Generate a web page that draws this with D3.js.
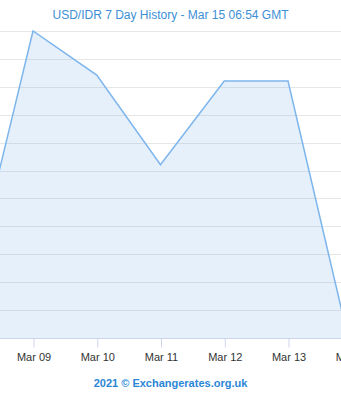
<!DOCTYPE html>
<html>
<head>
<meta charset="utf-8">
<script src="https://cdn.jsdelivr.net/npm/d3@7"></script>
<style>
  body { margin: 0; background: #fff; }
  svg { display: block; font-family: "Liberation Sans", Arial, sans-serif; }
  .grid line { stroke: #e6e6e6; }
  .x-axis path, .x-axis line { stroke: #ccd6eb; }
  .x-axis text { fill: #333; font-size: 11px; }
</style>
</head>
<body>
<div id="chart"></div>
<script>
// Daily USD/IDR rates, Mar 08 to Mar 14 (the ends run past the visible plot)
const dates = ["2021-03-08", "2021-03-09", "2021-03-10", "2021-03-11", "2021-03-12", "2021-03-13", "2021-03-14"];
const rates = [14315.4, 14410, 14394.2, 14362.1, 14392.1, 14392.1, 14294.6];
const tickDates = ["2021-03-09", "2021-03-10", "2021-03-11", "2021-03-12", "2021-03-13", "2021-03-14"];
const rateTicks = d3.range(14300, 14411, 10);

const width = 341;
const height = 400;
const plotTop = 31;
const plotBottom = 338;

const parse = d3.utcParse("%Y-%m-%d");
const data = dates.map((d, i) => ({ date: parse(d), rate: rates[i] }));

const svg = d3.select("#chart")
    .append("svg")
    .attr("width", width)
    .attr("height", height);

// One day is about 64px; Mar 09 sits at x = 33
const xScale = d3.scaleUtc()
    .domain([parse("2021-03-08"), parse("2021-03-14")])
    .range([-30.75, 351.75]);

const yScale = d3.scaleLinear()
    .domain([14300, 14410])
    .range([plotBottom, plotTop]);

// Clip the series to the visible plot area
svg.append("clipPath")
    .attr("id", "plot-clip")
    .append("rect")
    .attr("x", 0)
    .attr("y", plotTop - 2)
    .attr("width", width)
    .attr("height", plotBottom - plotTop + 2);

// Horizontal grid lines
svg.append("g")
    .attr("class", "grid")
    .selectAll("line")
    .data(rateTicks.slice(1))
    .join("line")
    .attr("x1", 0)
    .attr("x2", width)
    .attr("y1", d => Math.round(yScale(d)) + 0.5)
    .attr("y2", d => Math.round(yScale(d)) + 0.5);

const plot = svg.append("g").attr("clip-path", "url(#plot-clip)");

const area = d3.area()
    .x(d => xScale(d.date))
    .y0(plotBottom + 20)
    .y1(d => yScale(d.rate));

const line = d3.line()
    .x(d => xScale(d.date))
    .y(d => yScale(d.rate));

plot.append("path")
    .datum(data)
    .attr("d", area)
    .attr("fill", "#7cb5ec")
    .attr("fill-opacity", 0.2);

plot.append("path")
    .datum(data)
    .attr("d", line)
    .attr("fill", "none")
    .attr("stroke", "#7cb5ec")
    .attr("stroke-width", 1.5);

// x-axis with day labels
svg.append("g")
    .attr("class", "x-axis")
    .attr("transform", `translate(0.5, ${plotBottom + 0.5})`)
    .call(d3.axisBottom(xScale)
        .tickValues(tickDates.map(parse))
        .tickFormat(d3.utcFormat("%b %d"))
        .tickSize(9)
        .tickPadding(6))
    .call(g => g.select(".domain").attr("d", `M-1,0H${width}`));

// Title
svg.append("text")
    .attr("x", width / 2)
    .attr("y", 19)
    .attr("text-anchor", "middle")
    .attr("fill", "#3d8fd6")
    .style("font-size", "12px")
    .text("USD/IDR 7 Day History - Mar 15 06:54 GMT");

// Credit line
svg.append("text")
    .attr("x", width / 2)
    .attr("y", 387)
    .attr("text-anchor", "middle")
    .attr("fill", "#2b86d6")
    .style("font-size", "11px")
    .style("font-weight", "bold")
    .text("2021 © Exchangerates.org.uk");
</script>
</body>
</html>
